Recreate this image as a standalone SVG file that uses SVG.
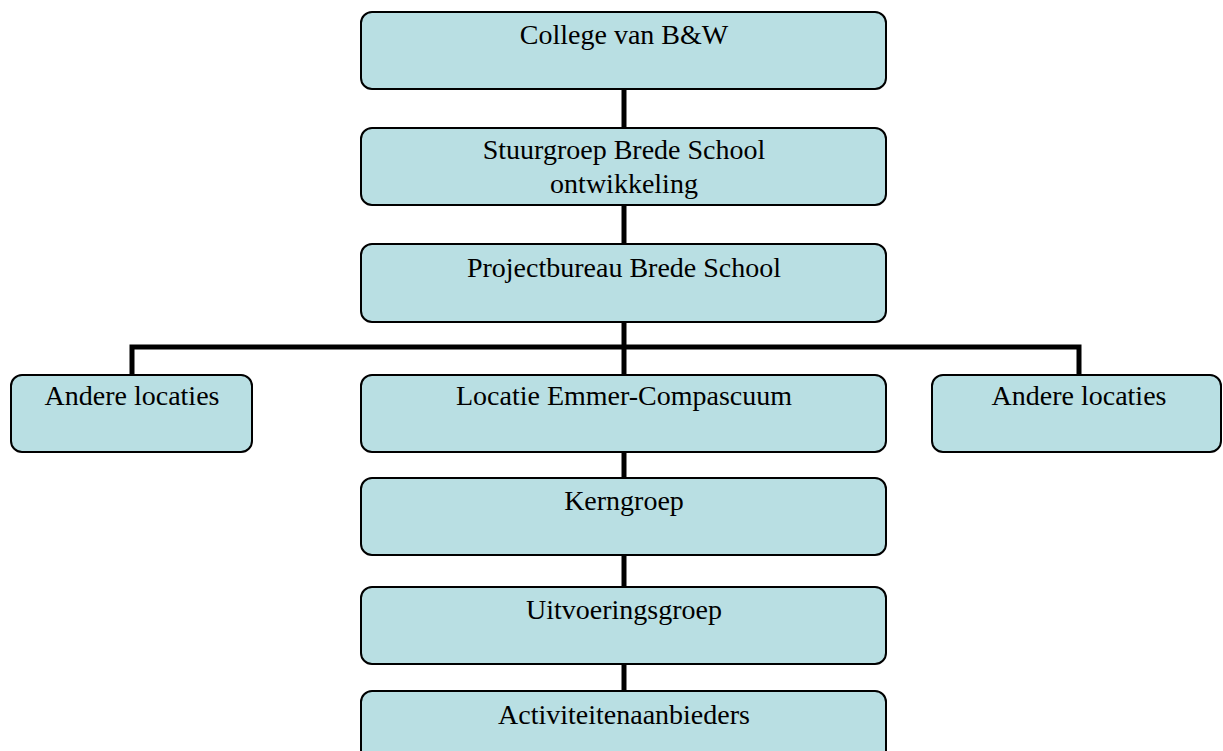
<svg xmlns="http://www.w3.org/2000/svg" width="1223" height="751" viewBox="0 0 1223 751">
<style>
.box{fill:#b9dfe3;stroke:#000;stroke-width:2}
.lbl{font-family:"Liberation Serif","Times New Roman",serif;font-size:28px;fill:#000;text-anchor:middle}
.con{fill:none;stroke:#000;stroke-width:5}
</style>
<rect width="1223" height="751" fill="#fff"/>
<g id="connectors">
<line class="con" x1="624" y1="89" x2="624" y2="128"/>
<line class="con" x1="624" y1="204" x2="624" y2="244"/>
<line class="con" x1="624" y1="322" x2="624" y2="375"/>
<polyline class="con" points="132,375 132,347 1079,347 1079,375"/>
<line class="con" x1="624" y1="452" x2="624" y2="478"/>
<line class="con" x1="624" y1="555" x2="624" y2="587"/>
<line class="con" x1="624" y1="664" x2="624" y2="691"/>
</g>
<g id="college"><rect class="box" x="361" y="12" width="525" height="77" rx="11"/><text class="lbl" x="624" y="44">College van B&amp;W</text></g>
<g id="stuurgroep"><rect class="box" x="361" y="128" width="525" height="77" rx="11"/><text class="lbl" x="624" y="159">Stuurgroep Brede School</text><text class="lbl" x="624" y="193">ontwikkeling</text></g>
<g id="projectbureau"><rect class="box" x="361" y="244" width="525" height="78" rx="11"/><text class="lbl" x="624" y="277">Projectbureau Brede School</text></g>
<g id="andere-links"><rect class="box" x="11" y="375" width="241" height="77" rx="11"/><text class="lbl" x="132" y="405">Andere locaties</text></g>
<g id="locatie"><rect class="box" x="361" y="375" width="525" height="77" rx="11"/><text class="lbl" x="624" y="405">Locatie Emmer-Compascuum</text></g>
<g id="andere-rechts"><rect class="box" x="932" y="375" width="289" height="77" rx="11"/><text class="lbl" x="1079" y="405">Andere locaties</text></g>
<g id="kerngroep"><rect class="box" x="361" y="478" width="525" height="77" rx="11"/><text class="lbl" x="624" y="510">Kerngroep</text></g>
<g id="uitvoeringsgroep"><rect class="box" x="361" y="587" width="525" height="77" rx="11"/><text class="lbl" x="624" y="619">Uitvoeringsgroep</text></g>
<g id="activiteitenaanbieders"><rect class="box" x="361" y="691" width="525" height="77" rx="11"/><text class="lbl" x="624" y="724">Activiteitenaanbieders</text></g>
</svg>
